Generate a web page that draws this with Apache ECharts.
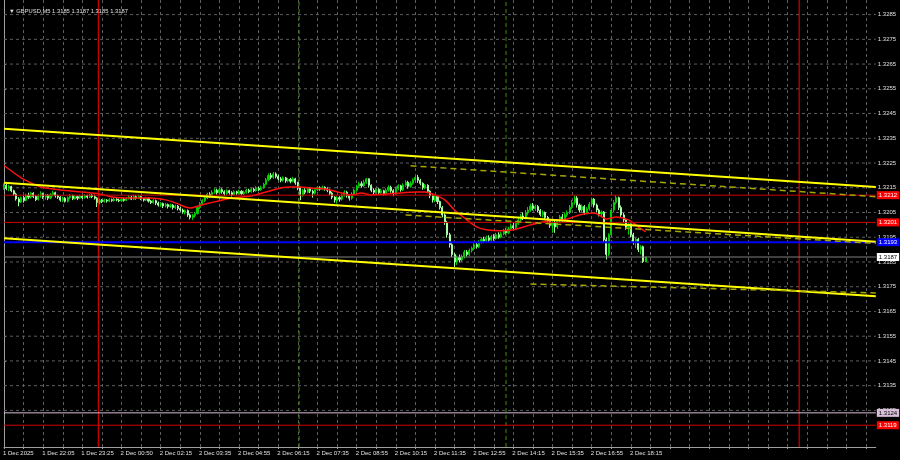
<!DOCTYPE html>
<html><head><meta charset="utf-8">
<script src="https://cdn.jsdelivr.net/npm/echarts@6/dist/echarts.min.js"></script>
<style>html,body{margin:0;padding:0;background:#000;}#c{width:900px;height:460px;}</style>
</head><body><div id="c"></div>
<script>
const chartTitle = '\u25BC GBPUSD,M5 1.3185 1.3187 1.3185 1.3187';
const timeTicks = ['1 Dec 2025','1 Dec 22:05','1 Dec 23:25','2 Dec 00:50','2 Dec 02:15','2 Dec 03:35','2 Dec 04:55','2 Dec 06:15','2 Dec 07:35','2 Dec 08:55','2 Dec 10:15','2 Dec 11:35','2 Dec 12:55','2 Dec 14:15','2 Dec 15:35','2 Dec 16:55','2 Dec 18:15'];
const priceTicks = [1.3125,1.3135,1.3145,1.3155,1.3165,1.3175,1.3185,1.3195,1.3205,1.3215,1.3225,1.3235,1.3245,1.3255,1.3265,1.3275,1.3285];
const priceMin = 1.31102, priceMax = 1.32909;
// [open, close, low, high]
const candles = [
[1.32150,1.32160,1.32142,1.32168],[1.32160,1.32148,1.32140,1.32170],[1.32148,1.32155,1.32136,1.32162],[1.32155,1.32138,1.32132,1.32158],
[1.32138,1.32125,1.32118,1.32142],[1.32125,1.32105,1.32098,1.32130],[1.32105,1.32092,1.32075,1.32112],[1.32092,1.32110,1.32088,1.32115],
[1.32110,1.32098,1.32090,1.32118],[1.32098,1.32120,1.32095,1.32126],[1.32120,1.32112,1.32104,1.32130],[1.32112,1.32128,1.32106,1.32134],
[1.32128,1.32115,1.32108,1.32132],[1.32115,1.32102,1.32096,1.32120],[1.32102,1.32118,1.32098,1.32124],[1.32118,1.32126,1.32110,1.32136],
[1.32126,1.32112,1.32105,1.32130],[1.32112,1.32120,1.32102,1.32125],[1.32120,1.32108,1.32100,1.32124],[1.32108,1.32122,1.32104,1.32128],
[1.32122,1.32130,1.32115,1.32138],[1.32130,1.32118,1.32110,1.32134],[1.32118,1.32112,1.32105,1.32122],[1.32112,1.32100,1.32094,1.32116],
[1.32100,1.32108,1.32092,1.32114],[1.32108,1.32095,1.32090,1.32112],[1.32095,1.32110,1.32091,1.32115],[1.32110,1.32118,1.32104,1.32124],
[1.32118,1.32106,1.32100,1.32122],[1.32106,1.32114,1.32102,1.32120],[1.32114,1.32108,1.32100,1.32118],[1.32108,1.32116,1.32104,1.32122],
[1.32116,1.32110,1.32104,1.32120],[1.32110,1.32118,1.32106,1.32124],[1.32118,1.32112,1.32106,1.32122],[1.32112,1.32120,1.32108,1.32126],
[1.32120,1.32114,1.32108,1.32124],[1.32114,1.32108,1.32102,1.32122],[1.32108,1.32090,1.32072,1.32112],[1.32090,1.32100,1.32082,1.32106],
[1.32100,1.32094,1.32088,1.32104],[1.32094,1.32100,1.32090,1.32106],[1.32100,1.32096,1.32090,1.32104],[1.32096,1.32102,1.32092,1.32108],
[1.32102,1.32098,1.32093,1.32106],[1.32098,1.32104,1.32094,1.32110],[1.32104,1.32100,1.32095,1.32108],[1.32100,1.32097,1.32092,1.32106],
[1.32097,1.32103,1.32093,1.32108],[1.32103,1.32099,1.32094,1.32108],[1.32099,1.32106,1.32096,1.32112],[1.32106,1.32112,1.32102,1.32120],
[1.32112,1.32104,1.32100,1.32118],[1.32104,1.32114,1.32100,1.32122],[1.32114,1.32108,1.32102,1.32120],[1.32108,1.32115,1.32104,1.32122],
[1.32115,1.32106,1.32100,1.32118],[1.32106,1.32100,1.32094,1.32110],[1.32100,1.32108,1.32096,1.32114],[1.32108,1.32096,1.32090,1.32112],
[1.32096,1.32090,1.32084,1.32100],[1.32090,1.32098,1.32086,1.32104],[1.32098,1.32088,1.32080,1.32102],[1.32088,1.32080,1.32074,1.32094],
[1.32080,1.32086,1.32072,1.32092],[1.32086,1.32076,1.32068,1.32090],[1.32076,1.32082,1.32070,1.32088],[1.32082,1.32074,1.32066,1.32086],
[1.32074,1.32080,1.32068,1.32086],[1.32080,1.32070,1.32062,1.32084],[1.32070,1.32076,1.32064,1.32082],[1.32076,1.32066,1.32058,1.32080],
[1.32066,1.32060,1.32054,1.32072],[1.32060,1.32052,1.32045,1.32066],[1.32052,1.32058,1.32042,1.32062],[1.32058,1.32040,1.32032,1.32062],
[1.32040,1.32030,1.32022,1.32046],[1.32030,1.32038,1.32020,1.32044],[1.32038,1.32046,1.32030,1.32052],[1.32046,1.32070,1.32042,1.32076],
[1.32070,1.32085,1.32064,1.32092],[1.32085,1.32098,1.32080,1.32104],[1.32098,1.32110,1.32092,1.32116],[1.32110,1.32124,1.32104,1.32130],
[1.32124,1.32118,1.32110,1.32132],[1.32118,1.32132,1.32114,1.32140],[1.32132,1.32140,1.32126,1.32148],[1.32140,1.32130,1.32122,1.32146],
[1.32130,1.32142,1.32126,1.32150],[1.32142,1.32134,1.32126,1.32148],[1.32134,1.32126,1.32118,1.32140],[1.32126,1.32138,1.32120,1.32144],
[1.32138,1.32130,1.32122,1.32142],[1.32130,1.32122,1.32115,1.32136],[1.32122,1.32134,1.32118,1.32140],[1.32134,1.32128,1.32120,1.32138],
[1.32128,1.32136,1.32122,1.32142],[1.32136,1.32126,1.32120,1.32140],[1.32126,1.32132,1.32120,1.32138],[1.32132,1.32140,1.32126,1.32146],
[1.32140,1.32134,1.32128,1.32146],[1.32134,1.32144,1.32130,1.32150],[1.32144,1.32138,1.32132,1.32150],[1.32138,1.32148,1.32134,1.32156],
[1.32148,1.32142,1.32136,1.32154],[1.32142,1.32150,1.32138,1.32158],[1.32150,1.32164,1.32146,1.32170],[1.32164,1.32182,1.32160,1.32190],
[1.32182,1.32200,1.32176,1.32208],[1.32200,1.32192,1.32184,1.32210],[1.32192,1.32206,1.32186,1.32214],[1.32206,1.32196,1.32188,1.32212],
[1.32196,1.32186,1.32180,1.32202],[1.32186,1.32180,1.32172,1.32194],[1.32180,1.32190,1.32174,1.32196],[1.32190,1.32178,1.32170,1.32194],
[1.32178,1.32184,1.32172,1.32190],[1.32184,1.32176,1.32168,1.32190],[1.32176,1.32186,1.32172,1.32194],[1.32186,1.32170,1.32162,1.32190],
[1.32170,1.32150,1.32140,1.32174],[1.32150,1.32120,1.32100,1.32154],[1.32120,1.32140,1.32114,1.32146],[1.32140,1.32132,1.32124,1.32148],
[1.32132,1.32146,1.32128,1.32152],[1.32146,1.32136,1.32128,1.32152],[1.32136,1.32128,1.32110,1.32142],[1.32128,1.32142,1.32122,1.32150],
[1.32142,1.32150,1.32136,1.32156],[1.32150,1.32144,1.32138,1.32156],[1.32144,1.32152,1.32140,1.32158],[1.32152,1.32146,1.32138,1.32156],
[1.32146,1.32140,1.32132,1.32152],[1.32140,1.32128,1.32120,1.32146],[1.32128,1.32112,1.32104,1.32134],[1.32112,1.32100,1.32090,1.32116],
[1.32100,1.32110,1.32086,1.32116],[1.32110,1.32104,1.32094,1.32116],[1.32104,1.32120,1.32098,1.32126],[1.32120,1.32132,1.32114,1.32140],
[1.32132,1.32118,1.32110,1.32138],[1.32118,1.32108,1.32098,1.32124],[1.32108,1.32124,1.32102,1.32132],[1.32124,1.32140,1.32118,1.32146],
[1.32140,1.32156,1.32134,1.32162],[1.32156,1.32166,1.32150,1.32174],[1.32166,1.32158,1.32150,1.32176],[1.32158,1.32172,1.32152,1.32182],
[1.32172,1.32186,1.32166,1.32190],[1.32186,1.32160,1.32150,1.32188],[1.32160,1.32140,1.32132,1.32164],[1.32140,1.32132,1.32124,1.32148],
[1.32132,1.32144,1.32126,1.32150],[1.32144,1.32130,1.32122,1.32148],[1.32130,1.32138,1.32124,1.32146],[1.32138,1.32126,1.32118,1.32142],
[1.32126,1.32140,1.32120,1.32148],[1.32140,1.32152,1.32134,1.32160],[1.32152,1.32138,1.32130,1.32158],[1.32138,1.32128,1.32116,1.32144],
[1.32128,1.32146,1.32122,1.32154],[1.32146,1.32158,1.32140,1.32164],[1.32158,1.32142,1.32134,1.32162],[1.32142,1.32160,1.32136,1.32168],
[1.32160,1.32172,1.32154,1.32180],[1.32172,1.32156,1.32146,1.32178],[1.32156,1.32168,1.32150,1.32176],[1.32168,1.32182,1.32162,1.32188],
[1.32182,1.32192,1.32174,1.32198],[1.32192,1.32180,1.32170,1.32202],[1.32180,1.32168,1.32160,1.32186],[1.32168,1.32150,1.32142,1.32172],
[1.32150,1.32160,1.32144,1.32166],[1.32160,1.32136,1.32128,1.32164],[1.32136,1.32118,1.32108,1.32140],[1.32118,1.32100,1.32090,1.32124],
[1.32100,1.32116,1.32092,1.32122],[1.32116,1.32094,1.32084,1.32120],[1.32094,1.32070,1.32062,1.32098],[1.32070,1.32040,1.32030,1.32076],
[1.32040,1.32010,1.32000,1.32046],[1.32010,1.31960,1.31948,1.32016],[1.31960,1.31920,1.31908,1.31968],[1.31920,1.31880,1.31870,1.31926],
[1.31880,1.31850,1.31830,1.31886],[1.31850,1.31868,1.31838,1.31876],[1.31868,1.31858,1.31848,1.31880],[1.31858,1.31872,1.31850,1.31880],
[1.31872,1.31890,1.31864,1.31898],[1.31890,1.31880,1.31872,1.31898],[1.31880,1.31896,1.31874,1.31904],[1.31896,1.31906,1.31888,1.31912],
[1.31906,1.31920,1.31898,1.31928],[1.31920,1.31912,1.31904,1.31930],[1.31912,1.31930,1.31906,1.31938],[1.31930,1.31942,1.31924,1.31950],
[1.31942,1.31935,1.31926,1.31952],[1.31935,1.31948,1.31928,1.31956],[1.31948,1.31938,1.31930,1.31958],[1.31938,1.31952,1.31932,1.31960],
[1.31952,1.31945,1.31936,1.31962],[1.31945,1.31960,1.31940,1.31968],[1.31960,1.31950,1.31944,1.31970],[1.31950,1.31964,1.31946,1.31972],
[1.31964,1.31976,1.31958,1.31984],[1.31976,1.31968,1.31960,1.31986],[1.31968,1.31984,1.31962,1.31992],[1.31984,1.31996,1.31978,1.32006],
[1.31996,1.31988,1.31980,1.32010],[1.31988,1.32006,1.31982,1.32014],[1.32006,1.32020,1.32000,1.32030],[1.32020,1.32036,1.32014,1.32044],
[1.32036,1.32028,1.32020,1.32050],[1.32028,1.32048,1.32022,1.32060],[1.32048,1.32060,1.32040,1.32072],[1.32060,1.32076,1.32052,1.32086],
[1.32076,1.32066,1.32058,1.32088],[1.32066,1.32074,1.32056,1.32082],[1.32074,1.32058,1.32050,1.32080],[1.32058,1.32042,1.32034,1.32064],
[1.32042,1.32050,1.32030,1.32058],[1.32050,1.32030,1.32020,1.32054],[1.32030,1.32016,1.32006,1.32036],[1.32016,1.31998,1.31988,1.32020],
[1.31998,1.32010,1.31968,1.32016],[1.32010,1.31992,1.31968,1.32016],[1.31992,1.32016,1.31984,1.32024],[1.32016,1.32032,1.32010,1.32040],
[1.32032,1.32022,1.32014,1.32044],[1.32022,1.32040,1.32016,1.32048],[1.32040,1.32050,1.32032,1.32058],[1.32050,1.32070,1.32044,1.32080],
[1.32070,1.32090,1.32064,1.32100],[1.32090,1.32108,1.32082,1.32120],[1.32108,1.32080,1.32070,1.32116],[1.32080,1.32060,1.32050,1.32086],
[1.32060,1.32074,1.32052,1.32082],[1.32074,1.32050,1.32040,1.32080],[1.32050,1.32064,1.32044,1.32072],[1.32064,1.32084,1.32058,1.32092],
[1.32084,1.32104,1.32078,1.32110],[1.32104,1.32080,1.32070,1.32108],[1.32080,1.32060,1.32050,1.32086],[1.32060,1.32044,1.32034,1.32066],
[1.32044,1.32052,1.32030,1.32058],[1.32052,1.31940,1.31930,1.32056],[1.31940,1.31880,1.31860,1.31948],[1.31880,1.31960,1.31874,1.31966],
[1.31960,1.32060,1.31952,1.32068],[1.32060,1.32090,1.32050,1.32100],[1.32090,1.32110,1.32082,1.32120],[1.32110,1.32070,1.32060,1.32114],
[1.32070,1.32040,1.32030,1.32078],[1.32040,1.32020,1.32010,1.32048],[1.32020,1.31990,1.31980,1.32026],[1.31990,1.32000,1.31960,1.32008],
[1.32000,1.31960,1.31950,1.32006],[1.31960,1.31930,1.31920,1.31968],[1.31930,1.31942,1.31906,1.31948],[1.31942,1.31900,1.31890,1.31948],
[1.31900,1.31912,1.31880,1.31918],[1.31912,1.31852,1.31846,1.31916],[1.31850,1.31870,1.31850,1.31870]
];
const maIdx = [0,7,11,15,23,32,39,44,52,60,66,70,76,81,86,93,101,107,113,117,121,125,131,138,142,146,150,156,162,168,172,176,180,184,188,193,197,203,208,215,222,230,235,241,246,250,255,259,262];
const maVal = [1.3224,1.3219,1.3217,1.32153,1.32141,1.32133,1.32125,1.32113,1.32109,1.32109,1.32101,1.32089,1.32068,1.32081,1.32093,1.32109,1.32117,1.32133,1.32149,1.32153,1.32153,1.32149,1.32145,1.32129,1.32121,1.32129,1.32121,1.32125,1.32129,1.32133,1.32133,1.32121,1.32101,1.3206,1.32028,1.31992,1.3198,1.31976,1.3198,1.3200,1.32016,1.32024,1.3204,1.32048,1.32024,1.32032,1.3202,1.31992,1.31972];
// trend lines: [startIndex, startPrice, endIndex, endPrice]
const trendSolid = [[0,1.32389,356,1.32153],[0,1.32170,356,1.31932],[0,1.31946,356,1.31711]];
const trendDashed = [[166,1.32239,356,1.32114],[164,1.32040,356,1.31925],[215,1.31761,356,1.31725]];
const levelPrices = [1.3212,1.3201,1.3193,1.3187,1.3124,1.3119];
// vertical separators, in bar positions
const sessionLines = [38.5,120.5,205,324.7];
const slotCount = 357;

const levelStyle = [
  {c:'#d00000',w:1,bg:'#ff0000',fg:'#fff'},
  {c:'#d00000',w:1,bg:'#ff0000',fg:'#fff'},
  {c:'#0000ff',w:2,bg:'#0000ff',fg:'#fff'},
  {c:'#808080',w:1,bg:'#ffffff',fg:'#000'},
  {c:'#d8bfd8',w:1,bg:'#d8bfd8',fg:'#000'},
  {c:'#d00000',w:1,bg:'#ff0000',fg:'#fff'}
];
const vStyle = [
  {c:'#ff0000',t:'solid'},{c:'#3c8c00',t:[4,3]},{c:'#3c8c00',t:[4,3]},{c:'#ff0000',t:'solid'}
];

const cats = Array.from({length: slotCount}, (_, i) => String(i));
const font = 'Liberation Sans';
const lastSlot = slotCount - 1;
const chart = echarts.init(document.getElementById('c'), null, {renderer:'canvas'});

const series = [];
priceTicks.forEach(p => series.push({
  type: 'line', data: [[0, p], [lastSlot, p]], symbol: 'none', silent: true, z: 1,
  lineStyle: {color: '#5e5e5e', width: 1, type: [3, 3]}
}));
series.push({
  type: 'candlestick',
  data: candles,
  barWidth: 1.6,
  itemStyle: {color: '#00d000', color0: '#a8ffa8', borderColor: '#00d000', borderColor0: '#a8ffa8', borderWidth: 1},
  z: 2
});
sessionLines.forEach((s, k) => series.push({
  type: 'line', xAxisIndex: 1, data: [[s, priceMin], [s, priceMax]], symbol: 'none', silent: true, z: 3,
  lineStyle: {color: vStyle[k].c, width: 1, type: vStyle[k].t}
}));
series.push({
  type: 'line', data: maIdx.map((ix, k) => [ix, maVal[k]]), showSymbol: false, symbol: 'none',
  smooth: 0.3, lineStyle: {color: '#ff1010', width: 1.5}, z: 4
});
levelPrices.forEach((p, k) => series.push({
  type: 'line', data: [[0, p], [lastSlot, p]], symbol: 'none', silent: true, z: 5,
  lineStyle: {color: levelStyle[k].c, width: levelStyle[k].w},
  endLabel: {show: true, formatter: p.toFixed(4), distance: 1, backgroundColor: levelStyle[k].bg,
    color: levelStyle[k].fg, fontSize: 6, fontFamily: font, padding: [1, 2, 1, 2]}
}));
trendSolid.forEach(t => series.push({
  type: 'line', data: [[t[0], t[1]], [t[2], t[3]]], symbol: 'none', silent: true,
  lineStyle: {color: '#ffff00', width: 2}, z: 6
}));
trendDashed.forEach(t => series.push({
  type: 'line', data: [[t[0], t[1]], [t[2], t[3]]], symbol: 'none', silent: true,
  lineStyle: {color: '#a6a600', width: 1.5, type: [6, 4]}, z: 6
}));

chart.setOption({
  animation: false,
  backgroundColor: '#000000',
  title: {text: chartTitle, left: 4, top: 3, textStyle: {color: '#e0e0e0', fontSize: 5.8, fontWeight: 'normal', fontFamily: font}},
  grid: {left: 2.7, top: 0, width: 873.1, height: 447, show: false},
  xAxis: [{
    type: 'category', data: cats, boundaryGap: false,
    axisLine: {show: true, lineStyle: {color: '#a0a0a0', width: 1}},
    axisTick: {show: true, interval: 7, length: 2, lineStyle: {color: '#a0a0a0'}},
    axisLabel: {show: true, interval: (i) => i % 16 === 0 && i / 16 < timeTicks.length,
      formatter: (v, i) => timeTicks[Number(v) / 16] || '',
      align: 'left', margin: 3, color: '#e0e0e0', fontSize: 6, fontFamily: font, padding: [0,0,0,-1]},
    splitLine: {show: true, interval: 7, lineStyle: {color: '#5e5e5e', type: [3, 3], width: 1}}
  }, {
    type: 'value', min: 0, max: lastSlot, show: false, position: 'bottom',
    splitLine: {show: false}
  }],
  yAxis: {
    type: 'value', position: 'right', min: priceMin, max: priceMax, scale: true,
    axisLine: {show: true, lineStyle: {color: '#a0a0a0', width: 1}},
    axisTick: {show: true, length: 2, customValues: priceTicks, lineStyle: {color: '#a0a0a0'}},
    axisLabel: {show: true, customValues: priceTicks, formatter: (v) => v.toFixed(4), margin: 2,
      color: '#e0e0e0', fontSize: 6, fontFamily: font, align: 'left'},
    splitLine: {show: false}
  },
  series: series
});
</script></body></html>
